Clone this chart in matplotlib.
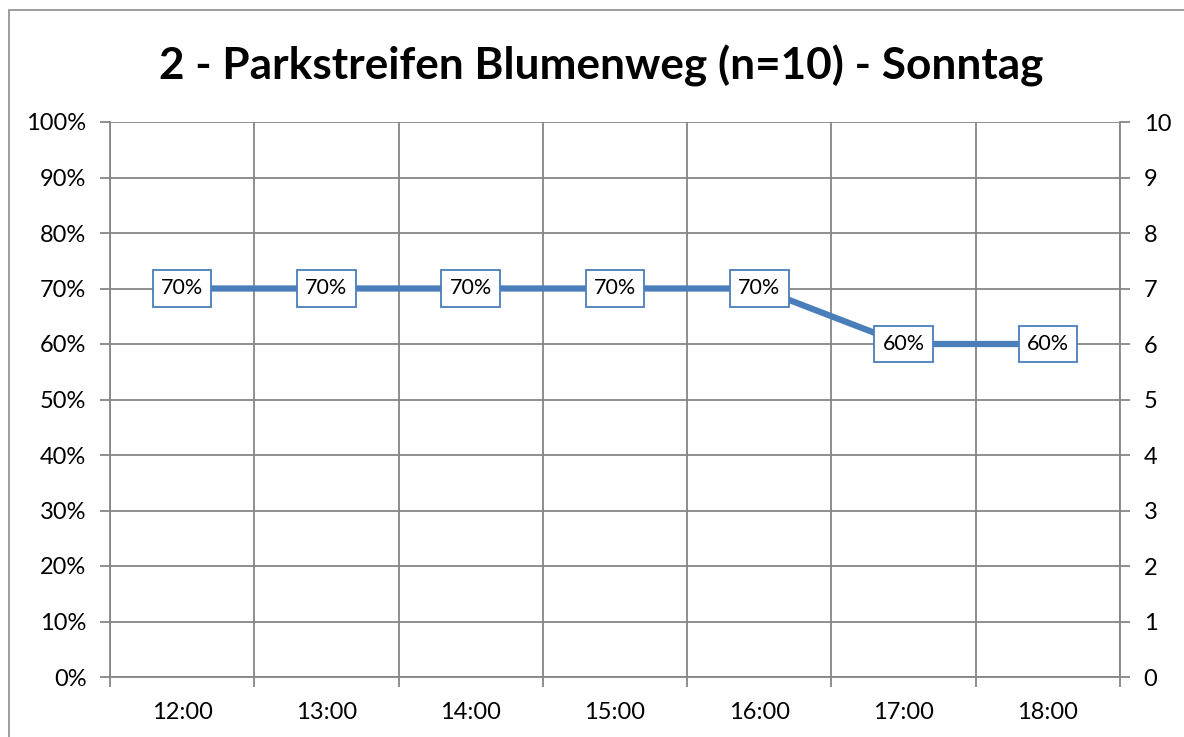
import matplotlib.pyplot as plt
from matplotlib.patches import Rectangle
from matplotlib.ticker import FixedLocator

plt.rcParams['font.family'] = ['Lato', 'DejaVu Sans']

# Daten
zeiten = ['12:00', '13:00', '14:00', '15:00', '16:00', '17:00', '18:00']
auslastung = [0.70, 0.70, 0.70, 0.70, 0.70, 0.60, 0.60]
titel = '2 - Parkstreifen Blumenweg (n=10) - Sonntag'

linie = '#4a7ebb'
gitter = '#868686'

fig = plt.figure(figsize=(11.84, 7.37), dpi=100)
# Rahmen des Diagramms (rechts/unten abgeschnitten)
fig.patches.append(Rectangle((9 / 1184, -0.1), 1.2, 1 - 10 / 737 + 0.1,
                             transform=fig.transFigure, fill=False,
                             edgecolor='#8c8c8c', linewidth=1.2))

ax = fig.add_axes([110 / 1184, 1 - 677 / 737, 1010 / 1184, 555 / 737])
x = list(range(len(zeiten)))
ax.plot(x, auslastung, color=linie, linewidth=4.5, solid_capstyle='butt', zorder=3)

for xi, yi in zip(x, auslastung):
    ax.text(xi, yi, f'{round(yi * 100)}%', ha='center', va='center',
            fontsize=15.5, zorder=4,
            bbox=dict(boxstyle='square,pad=0.38', facecolor='white',
                      edgecolor=linie, linewidth=1.3))

ax.set_xlim(-0.5, len(zeiten) - 0.5)
ax.set_ylim(0, 1)
ax.set_xticks(x)
ax.set_xticklabels(zeiten)
ax.xaxis.set_minor_locator(FixedLocator([i - 0.5 for i in range(len(zeiten) + 1)]))
ax.set_yticks([i / 10 for i in range(11)])
ax.set_yticklabels([f'{i * 10}%' for i in range(11)])

ax.tick_params(axis='x', which='major', length=0, labelsize=17, pad=18)
ax.tick_params(axis='x', which='minor', length=7, color=gitter, width=1.3)
ax.tick_params(axis='y', length=7, color=gitter, width=1.3, labelsize=17, pad=10)
ax.grid(axis='y', color=gitter, linewidth=1.3)
ax.grid(axis='x', which='minor', color=gitter, linewidth=1.3)
for s in ax.spines.values():
    s.set_color(gitter)
    s.set_linewidth(1.3)
ax.spines['top'].set_visible(False)

ax2 = ax.twinx()
ax2.set_ylim(0, 10)
ax2.set_yticks(range(11))
ax2.tick_params(axis='y', length=7, color=gitter, width=1.3, labelsize=17, pad=10)
for s in ax2.spines.values():
    s.set_visible(False)

fig.text(601 / 1184, 1 - 66 / 737, titel, ha='center', va='center',
         fontsize=31.8, fontweight='bold')

fig.savefig('out.png', dpi=100)
